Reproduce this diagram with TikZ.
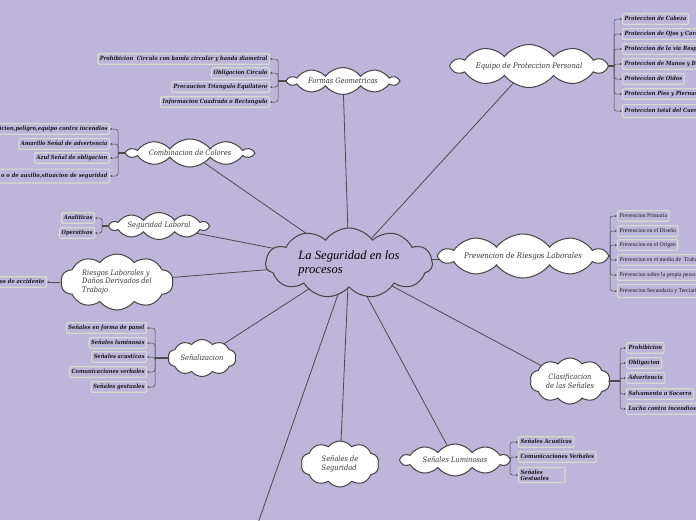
\documentclass[tikz,border=0pt]{standalone}
\usepackage{fontspec}
\setmainfont{Liberation Serif}
\newfontfamily\cloudfont{DejaVu Serif Condensed}
\usetikzlibrary{shapes.symbols,arrows.meta,backgrounds}

\definecolor{bg}{HTML}{BDB6DA}
\definecolor{cloudline}{HTML}{444444}
\definecolor{leafline}{HTML}{D3DDCF}
\definecolor{linkcol}{HTML}{4C4C4C}

\tikzset{
    topic/.style={cloud, cloud puffs=10, cloud puff arc=105, cloud ignores aspect, draw=cloudline, line width=1pt,
        fill=white, inner sep=0pt, align=center, text=black!80,
        font=\cloudfont\itshape\fontsize{7.4}{8.8}\selectfont},
    leaf/.style={draw=leafline, line width=1.2pt, fill=bg, rounded corners=1pt,
        inner xsep=2pt, inner ysep=2.3pt, text height=4.4pt, text depth=1.4pt, text=black!90,
        font=\cloudfont\bfseries\itshape\fontsize{5.7}{6.5}\selectfont},
    plainleaf/.style={leaf, font=\fontsize{5.8}{6.5}\selectfont},
    link/.style={draw=linkcol, line width=0.8pt},
    trunk/.style={draw=linkcol, line width=1.2pt},
    branch/.style={draw=gray!60!black, line width=0.5pt, rounded corners=2.5pt,
        -{Stealth[length=2.2pt,width=2pt]}},
}

\begin{document}
\begin{tikzpicture}[x=1pt,y=-1pt]

    \useasboundingbox (0,0) rectangle (696,520);

    % main topic
    \node[cloud, cloud puffs=11, cloud puff arc=110, cloud ignores aspect, draw=cloudline, line width=1pt, fill=bg,
        minimum width=167pt, minimum height=70pt, align=left, inner sep=0pt,
        font=\itshape\fontsize{12.6}{14}\selectfont] (main) at (349,263) {La Seguridad en los\\procesos};

    % subtopics
    \node[topic, minimum width=110pt, minimum height=27pt] (fg) at (343,81) {Formas Geometricas};
    \node[topic, minimum width=125pt, minimum height=28pt] (cc) at (190,153) {Combinacion de Colores};
    \node[topic, minimum width=98pt, minimum height=27pt] (sl) at (159,226) {Seguridad Laboral};
    \node[topic, minimum width=112pt, minimum height=56pt, align=left] (rd) at (117,282) {Riesgos Laborales y\\Da\~nos Derivados del\\Trabajo};
    \node[topic, minimum width=68pt, minimum height=37pt] (sz) at (202,358) {Se\~nalizacion};
    \node[topic, minimum width=78pt, minimum height=46pt, align=left] (ss) at (340,464) {Se\~nales de\\Seguridad};
    \node[topic, minimum width=108pt, minimum height=32pt] (su) at (455,460) {Se\~nales Luminosas};
    \node[topic, minimum width=80pt, minimum height=46pt] (cs) at (570,381) {Clasificacion\\de las Se\~nales};
    \node[topic, minimum width=166pt, minimum height=44pt, font=\cloudfont\itshape\fontsize{7.8}{9}\selectfont] (pr) at (523,256) {Prevencion de Riesgos Laborales};
    \node[topic, minimum width=154pt, minimum height=43pt, font=\cloudfont\itshape\fontsize{7.6}{9}\selectfont] (ep) at (529,66) {Equipo de Proteccion Personal};

    \coordinate (offpage) at (257,526);

    % junctions
    \coordinate (fgJ) at (278,81);
    \coordinate (ccJ) at (118,153);
    \coordinate (slJ) at (102,226);
    \coordinate (rdJ) at (60,282);
    \coordinate (szJ) at (155,358);
    \coordinate (suJ) at (510,460);
    \coordinate (csJ) at (620,381);
    \coordinate (prJ) at (610,256);
    \coordinate (epJ) at (614,66);

    % leaves: Formas Geometricas
    \node[leaf, anchor=east] (fg1) at (270,59) {Prohibicion\ \ Circulo con banda circular y banda diametral};
    \node[leaf, anchor=east] (fg2) at (270,73) {Obligacion Circulo};
    \node[leaf, anchor=east] (fg3) at (270,87) {Precaucion Triangulo Equilatero};
    \node[leaf, anchor=east] (fg4) at (270,102) {Informacion Cuadrado o Rectangulo};

    % leaves: Combinacion de Colores
    \node[leaf, anchor=east, text width=124pt, align=right] (cc1) at (110,129) {icion,peligro,equipo contra incendios};
    \node[leaf, anchor=east] (cc2) at (110,144) {Amarillo Se\~nal de advertencia};
    \node[leaf, anchor=east] (cc3) at (110,158) {Azul Se\~nal de obligacion};
    \node[leaf, anchor=east, text width=124pt, align=right, inner ysep=4pt] (cc4) at (110,176) {o o de auxilio,situacion de seguridad};

    % leaves: Seguridad Laboral
    \node[leaf, anchor=east] (sl1) at (95,218) {Analiticas};
    \node[leaf, anchor=east] (sl2) at (95,233) {Operativas};

    % leaves: Riesgos
    \node[leaf, anchor=east, text width=56pt, align=right] (rd1) at (47,282) {os de accidente};

    % leaves: Senalizacion
    \node[leaf, anchor=east] (sz1) at (147,328) {Se\~nales en forma de panel};
    \node[leaf, anchor=east] (sz2) at (147,343) {Se\~nales luminosas};
    \node[leaf, anchor=east] (sz3) at (147,357) {Se\~nales acusticas};
    \node[leaf, anchor=east] (sz4) at (147,372) {Comunicaciones verbales};
    \node[leaf, anchor=east] (sz5) at (147,387) {Se\~nales gestuales};

    % leaves: Senales Luminosas
    \node[leaf, anchor=west] (su1) at (518,442) {Se\~nales Acusticas};
    \node[leaf, anchor=west] (su2) at (518,457) {Comunicaciones Verbales};
    \node[leaf, anchor=west, align=left, text height=, text depth=, font=\cloudfont\bfseries\itshape\fontsize{5.7}{6}\selectfont] (su3) at (518,475) {Se\~nales\\Gestuales\ \ \ \ \ \ \ \ \ };

    % leaves: Clasificacion
    \node[leaf, anchor=west] (cs1) at (626,348) {Prohibicion};
    \node[leaf, anchor=west] (cs2) at (626,363) {Obligacion};
    \node[leaf, anchor=west] (cs3) at (626,378) {Advertencia};
    \node[leaf, anchor=west] (cs4) at (626,394) {Salvamento o Socorro};
    \node[leaf, anchor=west] (cs5) at (626,409) {Lucha contra incendios};

    % leaves: Prevencion
    \node[plainleaf, anchor=west] (pr1) at (617,216) {Prevencion Primaria};
    \node[plainleaf, anchor=west] (pr2) at (617,231) {Prevencion en el Dise\~no};
    \node[plainleaf, anchor=west] (pr3) at (617,245) {Prevencion en el Origen};
    \node[plainleaf, anchor=west] (pr4) at (617,260) {Prevencion en el medio de\ \ Trabajo};
    \node[plainleaf, anchor=west] (pr5) at (617,275) {Prevencion sobre la propia persona};
    \node[plainleaf, anchor=west, inner ysep=3.5pt] (pr6) at (617,291) {Prevencion Secundaria y Terciaria};

    % leaves: Equipo
    \node[leaf, anchor=west] (ep1) at (622,19) {Proteccion de Cabeza};
    \node[leaf, anchor=west] (ep2) at (622,34) {Proteccion de Ojos y Cara};
    \node[leaf, anchor=west] (ep3) at (622,49) {Proteccion de la via Respiratoria};
    \node[leaf, anchor=west] (ep4) at (622,64) {Proteccion de Manos y Brazos};
    \node[leaf, anchor=west] (ep5) at (622,79) {Proteccion de Oidos};
    \node[leaf, anchor=west] (ep6) at (622,94) {Proteccion Pies y Piernas};
    \node[leaf, anchor=west, inner ysep=3.5pt] (ep7) at (622,111) {Proteccion total del Cuerpo};

    \begin{pgfonlayer}{background}
        \fill[bg] (0,0) rectangle (696,520);
        \draw[link] (main.center) -- (fg.center);
        \draw[link] (main.center) -- (cc.center);
        \draw[link] (main.center) -- (sl.center);
        \draw[link] (main.center) -- (rd.center);
        \draw[link] (main.center) -- (sz.center);
        \draw[link] (main.center) -- (ss.center);
        \draw[link] (main.center) -- (su.center);
        \draw[link] (main.center) -- (cs.center);
        \draw[link] (main.center) -- (pr.center);
        \draw[link] (main.center) -- (ep.center);
        \draw[link] (main.center) -- (offpage);
        \draw[trunk] (fg.center) -- (fgJ);
        \draw[trunk] (cc.center) -- (ccJ);
        \draw[trunk] (sl.center) -- (slJ);
        \draw[trunk] (sz.center) -- (szJ);
        \draw[trunk] (su.center) -- (suJ);
        \draw[trunk] (cs.center) -- (csJ);
        \draw[trunk] (pr.center) -- (prJ);
        \draw[trunk] (ep.center) -- (epJ);
    \end{pgfonlayer}

    % branches
    \foreach \i in {1,...,4} \draw[branch] (fgJ) |- (fg\i.east);
    \foreach \i in {1,...,4} \draw[branch] (ccJ) |- (cc\i.east);
    \foreach \i in {1,2} \draw[branch] (slJ) |- (sl\i.east);
    \draw[branch] (rdJ) -- (rd1.east);
    \foreach \i in {1,...,5} \draw[branch] (szJ) |- (sz\i.east);
    \foreach \i in {1,...,3} \draw[branch] (suJ) |- (su\i.west);
    \foreach \i in {1,...,5} \draw[branch] (csJ) |- (cs\i.west);
    \foreach \i in {1,...,6} \draw[branch] (prJ) |- (pr\i.west);
    \foreach \i in {1,...,7} \draw[branch] (epJ) |- (ep\i.west);

\end{tikzpicture}
\end{document}
